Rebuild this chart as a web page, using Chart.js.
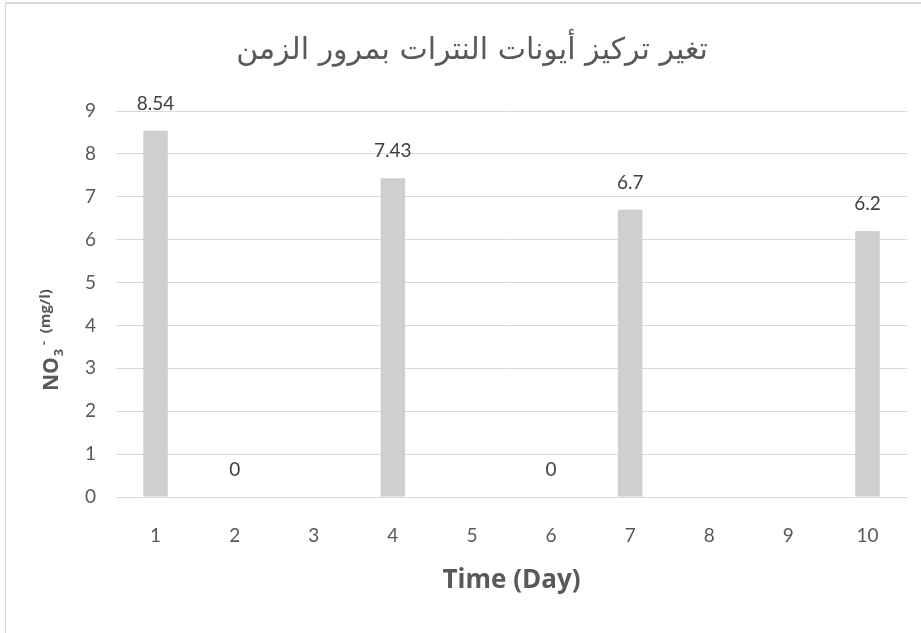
<!DOCTYPE html>
<html>
<head>
<meta charset="utf-8">
<script src="https://cdn.jsdelivr.net/npm/chart.js@4/dist/chart.umd.min.js"></script>
<style>
  html, body { margin: 0; padding: 0; background: #fff; }
  #wrap { position: relative; width: 921px; height: 633px; overflow: hidden; }
  #frame { position: absolute; left: 5px; top: 2px; width: 1000px; height: 1000px;
           border-left: 1px solid #d9d9d9; border-top: 2px solid #d9d9d9; }
  canvas { position: absolute; left: 0; top: 0; }
</style>
</head>
<body>
<div id="wrap">
  <div id="frame"></div>
  <canvas id="chart" width="921" height="633"></canvas>
</div>
<script>
var days = ['1', '2', '3', '4', '5', '6', '7', '8', '9', '10'];
// days without measurement are null, measured zeros stay 0
var nitrate = [8.54, 0, null, 7.43, null, 0, 6.7, null, null, 6.2];
var yMax = 9;
var titleText = 'تغير تركيز أيونات النترات بمرور الزمن';
var xTitle = 'Time (Day)';

var gray = '#595959';
var tickFont = 'Lato, "Open Sans", sans-serif';

// value labels above each bar (0 included)
var valueLabels = {
    id: 'valueLabels',
    afterDatasetsDraw: function(chart) {
        var ctx = chart.ctx;
        var meta = chart.getDatasetMeta(0);
        ctx.save();
        ctx.font = '19px ' + tickFont;
        ctx.fillStyle = '#404040';
        ctx.textAlign = 'center';
        ctx.textBaseline = 'alphabetic';
        meta.data.forEach(function(bar, i) {
            var v = nitrate[i];
            if (v === null) return;
            ctx.fillText(String(v), bar.x, bar.y - 21);
        });
        ctx.restore();
    }
};

// rotated y title with sub/superscript: NO3- (mg/l)
var yTitle = {
    id: 'yTitle',
    afterDraw: function(chart) {
        var ctx = chart.ctx;
        ctx.save();
        ctx.translate(58, 391);
        ctx.rotate(-Math.PI / 2);
        ctx.fillStyle = gray;
        ctx.textAlign = 'left';
        ctx.textBaseline = 'alphabetic';
        ctx.font = 'bold 21px "Open Sans", sans-serif';
        ctx.fillText('NO', 0, 0);
        var w = ctx.measureText('NO').width;
        ctx.font = 'bold 13px "Open Sans", sans-serif';
        ctx.fillText('3', w + 1, 5);
        ctx.fillText('-', w + 12, -10);
        ctx.font = 'bold 15px "Open Sans", sans-serif';
        ctx.fillText('(mg/l)', w + 24, -8);
        ctx.restore();
    }
};

new Chart(document.getElementById('chart'), {
    type: 'bar',
    data: {
        labels: days,
        datasets: [{
            data: nitrate,
            backgroundColor: '#d0cece',
            borderWidth: 0,
            categoryPercentage: 1,
            barPercentage: 0.31
        }]
    },
    options: {
        responsive: false,
        animation: false,
        layout: { padding: { left: 37, right: 14, top: 0, bottom: 33 } },
        plugins: {
            legend: { display: false },
            tooltip: { enabled: false },
            title: {
                display: true,
                text: titleText,
                color: gray,
                font: { family: '"DejaVu Sans", sans-serif', size: 30, weight: 'normal' },
                padding: { top: 33, bottom: 42 }
            }
        },
        scales: {
            x: {
                grid: { display: false, drawTicks: false },
                border: { display: true, color: '#d9d9d9', width: 1 },
                ticks: { color: gray, font: { family: tickFont, size: 19 }, padding: 27 },
                title: {
                    display: true,
                    text: xTitle,
                    color: gray,
                    font: { family: '"Open Sans", sans-serif', size: 26, weight: 'bold' },
                    padding: { top: 10 }
                },
                afterFit: function(scale) { scale.height = 103; }
            },
            y: {
                min: 0,
                max: yMax,
                ticks: { stepSize: 1, color: gray, font: { family: tickFont, size: 19 }, padding: 20 },
                grid: { color: '#d9d9d9', drawTicks: false },
                border: { display: false },
                afterFit: function(scale) { scale.width = 79; }
            }
        }
    },
    plugins: [valueLabels, yTitle]
});
</script>
</body>
</html>
